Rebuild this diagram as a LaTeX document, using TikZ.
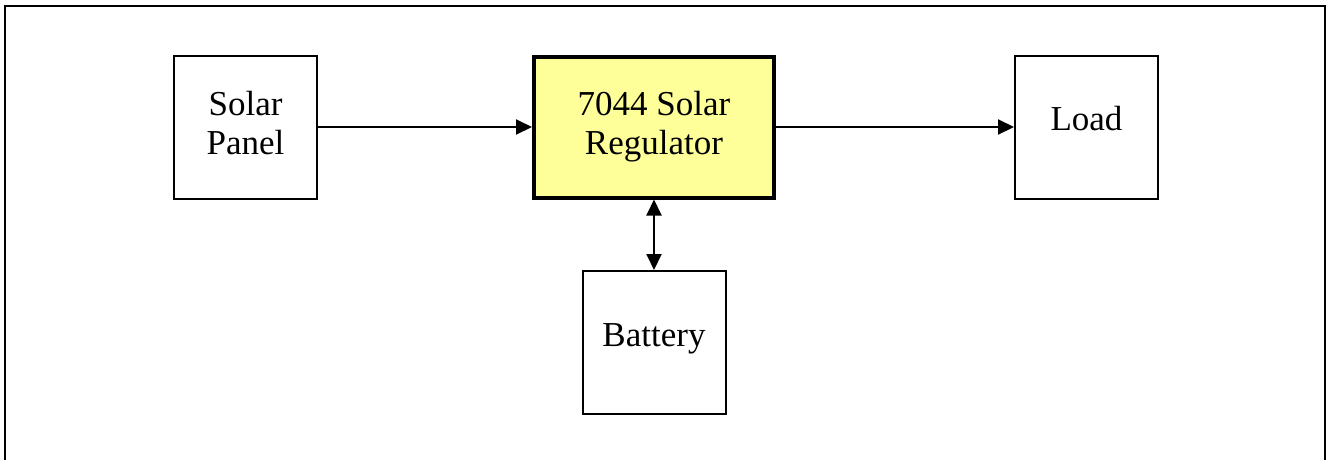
\documentclass[tikz,border=0pt]{standalone}
\usepackage{fontspec}
\setmainfont{Liberation Serif}
\usepackage{xcolor}
\usetikzlibrary{arrows.meta}
\definecolor{regyellow}{RGB}{255,255,153}

\tikzset{
    blockbox/.style={
        draw,
        line width=2pt,
        minimum width=143pt,
        minimum height=143pt,
        align=center,
        font=\fontsize{35}{39}\selectfont
    },
    link/.style={
        line width=2pt,
        -{Triangle[length=16pt,width=15pt]}
    }
}

\begin{document}
\begin{tikzpicture}[x=1pt,y=-1pt]

\useasboundingbox (0,0) rectangle (1326,459);
\clip (0,0) rectangle (1326,459);

% outer frame, bottom edge runs off the page
\draw[line width=2pt] (5,480) -- (5,6) -- (1325,6) -- (1325,480);

\node[blockbox, text height=63pt, text depth=8pt] (panel) at (245.5,127) {Solar\\Panel};

\node[
    blockbox,
    fill=regyellow,
    line width=4pt,
    minimum width=240pt,
    minimum height=141pt,
    text height=63pt,
    text depth=9pt
] (regulator) at (654,127) {7044 Solar\\Regulator};

\node[blockbox, text height=24pt, text depth=18pt] (load) at (1086.5,127) {Load};

\node[blockbox, text height=24pt, text depth=17pt] (battery) at (654,342.5) {Battery};

\draw[link] (panel) -- (regulator);
\draw[link] (regulator) -- (load);
\draw[link, {Triangle[length=16pt,width=15pt]}-{Triangle[length=16pt,width=15pt]}] (regulator) -- (battery);

\end{tikzpicture}
\end{document}
